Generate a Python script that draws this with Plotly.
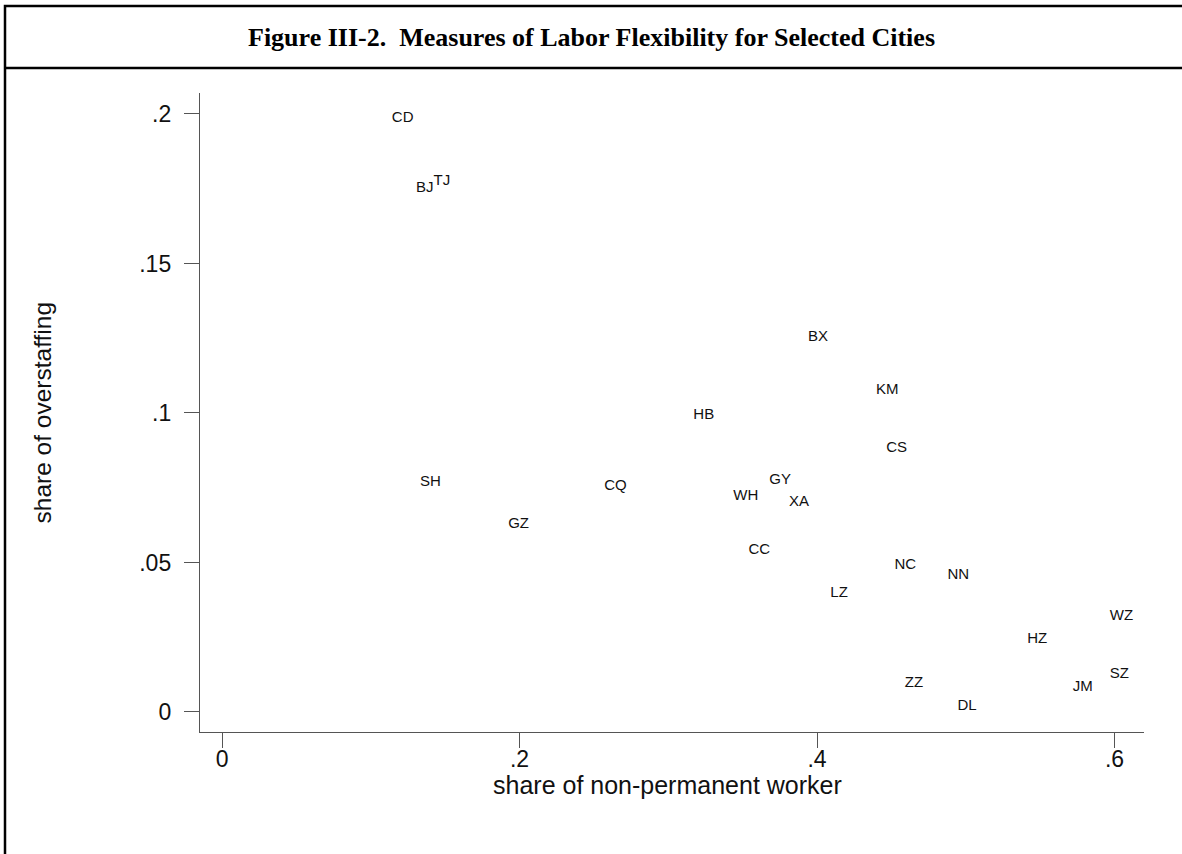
import plotly.graph_objects as go

# City codes and the two labour-flexibility measures
cities = ["CD", "BJ", "TJ", "SH", "GZ", "CQ", "HB", "WH", "GY", "XA", "CC", "BX",
          "KM", "CS", "NC", "NN", "LZ", "WZ", "HZ", "SZ", "JM", "ZZ", "DL"]
nonperm_share = [0.1118, 0.1281, 0.1398, 0.1308, 0.1900, 0.2546, 0.3145, 0.3414,
                 0.3656, 0.3788, 0.3515, 0.3916, 0.4373, 0.4441, 0.4497, 0.4853,
                 0.4066, 0.5945, 0.5389, 0.5945, 0.5696, 0.4566, 0.4920]
overstaff_share = [0.1987, 0.1753, 0.1776, 0.0769, 0.0629, 0.0754, 0.0991, 0.0723,
                   0.0774, 0.0702, 0.0542, 0.1254, 0.1077, 0.0883, 0.0492, 0.0456,
                   0.0398, 0.0321, 0.0243, 0.0126, 0.0083, 0.0096, 0.0020]

x_ticks = [0, 0.2, 0.4, 0.6]
x_tick_text = ["0", ".2", ".4", ".6"]
y_ticks = [0, 0.05, 0.1, 0.15, 0.2]
y_tick_text = ["0", ".05", ".1", ".15", ".2"]

W, H = 1182, 854
L, R, T, B = 200, 1144, 93, 732  # plot area in pixels


def px_x(p):
    return (p - L) / (R - L)


def px_y(p):
    return (B - p) / (B - T)


SANS = "Liberation Sans, Arial, Helvetica, sans-serif"
AXIS_COLOR = "#555555"

fig = go.Figure(
    go.Scatter(
        x=nonperm_share,
        y=overstaff_share,
        mode="markers+text",
        text=cities,
        textposition="middle right",
        marker=dict(size=4, opacity=0),
        textfont=dict(family=SANS, size=15, color="#111111"),
        hoverinfo="text",
        cliponaxis=False,
    )
)

axis_common = dict(
    showgrid=False,
    zeroline=False,
    showline=True,
    linecolor=AXIS_COLOR,
    linewidth=1.4,
    ticks="outside",
    ticklen=15,
    tickwidth=1.4,
    tickcolor=AXIS_COLOR,
    tickfont=dict(family=SANS, size=23, color="#111111"),
    mirror=False,
)

fig.update_xaxes(
    range=[-0.0148, 0.6198],
    tickvals=x_ticks,
    ticktext=x_tick_text,
    ticklabelstandoff=-9,
    **axis_common,
)
fig.update_yaxes(
    range=[-0.0067, 0.207],
    tickvals=y_ticks,
    ticktext=y_tick_text,
    ticklabelstandoff=8,
    **axis_common,
)

annotations = [
    dict(text="<b>Figure III-2.  Measures of Labor Flexibility for Selected Cities</b>",
         x=px_x(591), y=px_y(37), xref="paper", yref="paper",
         xanchor="center", yanchor="middle", showarrow=False,
         font=dict(family="Liberation Serif, Times New Roman, serif", size=26, color="#000000")),
    dict(text="share of non-permanent worker",
         x=px_x(667.5), y=px_y(785), xref="paper", yref="paper",
         xanchor="center", yanchor="middle", showarrow=False,
         font=dict(family=SANS, size=25, color="#111111")),
    dict(text="share of overstaffing",
         x=px_x(42), y=0.5, xref="paper", yref="paper", textangle=-90,
         xanchor="center", yanchor="middle", showarrow=False,
         font=dict(family=SANS, size=24.5, color="#111111")),
]

frame = dict(color="#000000", width=2.5)
shapes = [
    # outer box (extends past the right and bottom edges of the page)
    dict(type="rect", xref="paper", yref="paper",
         x0=px_x(5), x1=px_x(1195), y0=px_y(6), y1=px_y(880),
         line=frame, fillcolor="rgba(0,0,0,0)", layer="below"),
    # rule under the title
    dict(type="line", xref="paper", yref="paper",
         x0=px_x(5), x1=px_x(1195), y0=px_y(68), y1=px_y(68),
         line=frame),
]

fig.update_layout(
    width=W,
    height=H,
    margin=dict(l=L, r=W - R, t=T, b=H - B, pad=0),
    paper_bgcolor="white",
    plot_bgcolor="white",
    showlegend=False,
    annotations=annotations,
    shapes=shapes,
)

fig.write_html("out.html")
